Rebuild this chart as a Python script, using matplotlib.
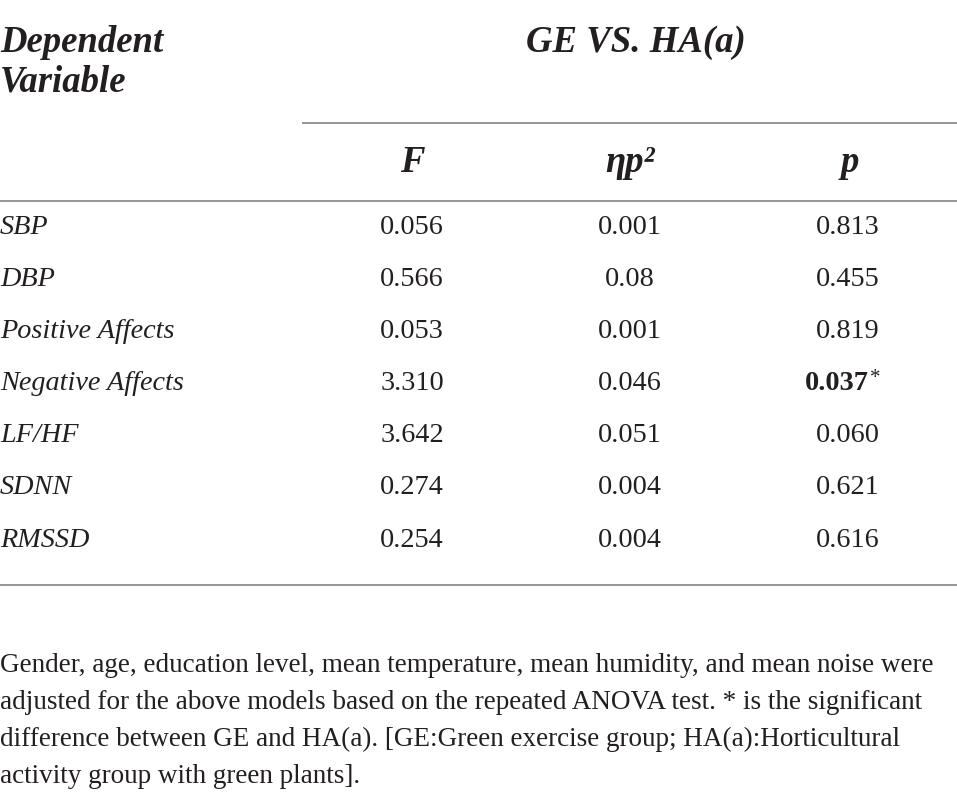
import matplotlib
matplotlib.use("Agg")
import matplotlib.pyplot as plt

variables = ["SBP", "DBP", "Positive Affects", "Negative Affects", "LF/HF", "SDNN", "RMSSD"]
f_values = ["0.056", "0.566", "0.053", "3.310", "3.642", "0.274", "0.254"]
eta_values = ["0.001", "0.08", "0.001", "0.046", "0.051", "0.004", "0.004"]
p_values = ["0.813", "0.455", "0.819", "0.037", "0.060", "0.621", "0.616"]
significant = [False, False, False, True, False, False, False]

col_headers = ["F", "ηp²", "p"]
group_header = "GE VS. HA(a)"
row_header = ["Dependent", "Variable"]
note_lines = [
    "Gender, age, education level, mean temperature, mean humidity, and mean noise were",
    "adjusted for the above models based on the repeated ANOVA test. * is the significant",
    "difference between GE and HA(a). [GE:Green exercise group; HA(a):Horticultural",
    "activity group with green plants].",
]

W, H = 957, 800
fig = plt.figure(figsize=(W / 100, H / 100), dpi=100)
ax = fig.add_axes([0, 0, 1, 1])
ax.set_xlim(0, W)
ax.set_ylim(H, 0)
ax.axis("off")

txt = "#231f20"
rule = "#8c8c8c"
font = "Liberation Serif"
hsize = 26.5
bsize = 20.3

# header
ax.text(0, 43, row_header[0], family=font, style="italic", weight="bold",
        fontsize=hsize, color=txt, va="center", ha="left")
ax.text(0, 82, row_header[1], family=font, style="italic", weight="bold",
        fontsize=hsize, color=txt, va="center", ha="left")
ax.text(636, 43, group_header, family=font, style="italic", weight="bold",
        fontsize=hsize, color=txt, va="center", ha="center")

col_x = [412, 630, 850]
for x, h in zip(col_x, col_headers):
    ax.text(x, 163, h, family=font, style="italic", weight="bold",
            fontsize=hsize, color=txt, va="center", ha="center")

ax.plot([302, W], [123, 123], color=rule, lw=1.3, solid_capstyle="butt")
ax.plot([0, W], [201, 201], color=rule, lw=1.3, solid_capstyle="butt")

# body
row_y0, row_step = 227, 52.2
for i, name in enumerate(variables):
    y = row_y0 + i * row_step
    ax.text(0, y, name, family=font, style="italic", fontsize=bsize,
            color=txt, va="center", ha="left")
    ax.text(col_x[0], y, f_values[i], family=font, fontsize=bsize,
            color=txt, va="center", ha="center")
    ax.text(col_x[1], y, eta_values[i], family=font, fontsize=bsize,
            color=txt, va="center", ha="center")
    if significant[i]:
        ax.text(869, y, p_values[i], family=font, weight="bold", fontsize=bsize,
                color=txt, va="center", ha="right")
        ax.text(870, y - 5, "*", family=font, fontsize=15,
                color=txt, va="center", ha="left")
    else:
        ax.text(848, y, p_values[i], family=font, fontsize=bsize,
                color=txt, va="center", ha="center")

ax.plot([0, W], [585, 585], color=rule, lw=1.3, solid_capstyle="butt")

# note
for i, line in enumerate(note_lines):
    ax.text(0, 665 + i * 37.2, line, family=font, fontsize=19.5,
            color=txt, va="center", ha="left")

fig.savefig("out.png", dpi=100)
